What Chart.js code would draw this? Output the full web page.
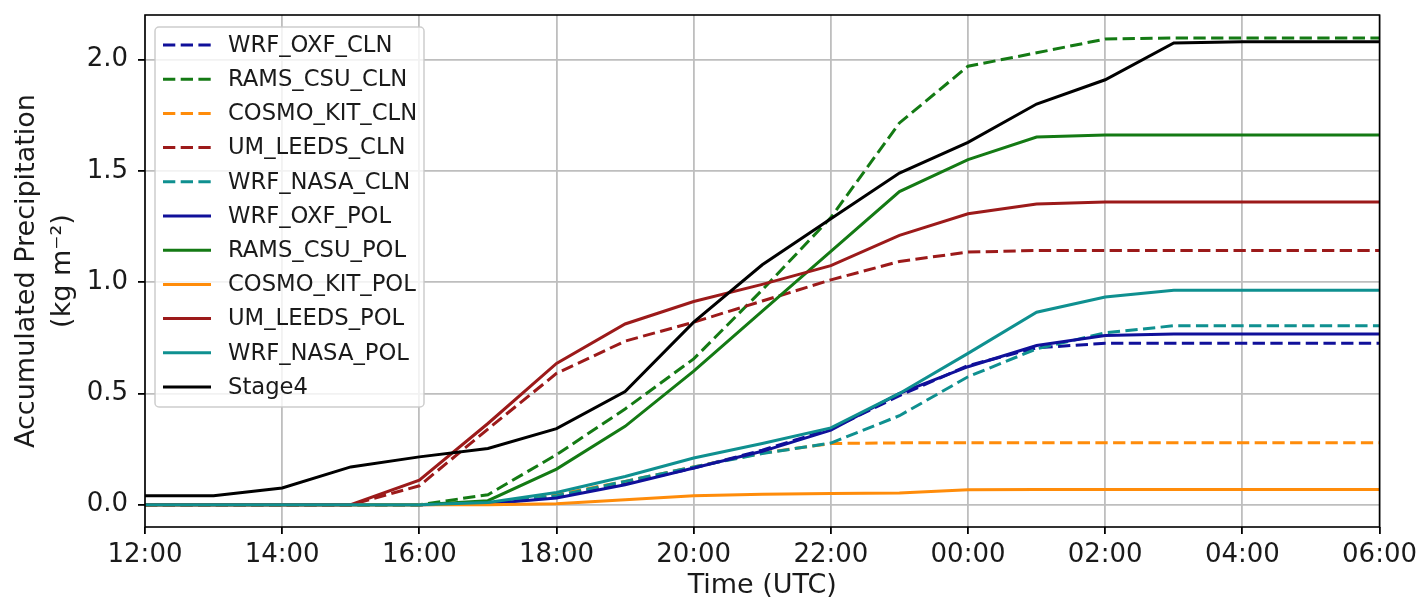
<!DOCTYPE html>
<html>
<head>
<meta charset="utf-8">
<script src="https://cdn.jsdelivr.net/npm/chart.js@4/dist/chart.umd.min.js"></script>
<style>
  html, body { margin: 0; padding: 0; background: #fff; }
</style>
</head>
<body>
<canvas id="precipChart" width="1423" height="604"></canvas>
<script>
// hourly times, 12:00 UTC to 06:00 UTC next day
const hours = ['12:00', '13:00', '14:00', '15:00', '16:00', '17:00', '18:00', '19:00', '20:00',
  '21:00', '22:00', '23:00', '00:00', '01:00', '02:00', '03:00', '04:00', '05:00', '06:00'];

// accumulated precipitation (kg m-2)
const wrfOxfCln = [0, 0, 0, 0, 0, 0.005, 0.04, 0.095, 0.165, 0.245, 0.34, 0.49, 0.625, 0.705, 0.725, 0.725, 0.725, 0.725, 0.725];
const ramsCsuCln = [0, 0, 0, 0, 0, 0.045, 0.225, 0.43, 0.655, 0.965, 1.29, 1.715, 1.97, 2.03, 2.092, 2.097, 2.097, 2.097, 2.097];
const cosmoKitCln = [0, 0, 0, 0, 0, 0.005, 0.045, 0.105, 0.17, 0.232, 0.275, 0.278, 0.278, 0.278, 0.278, 0.278, 0.278, 0.278, 0.278];
const umLeedsCln = [0, 0, 0, 0, 0.085, 0.34, 0.59, 0.735, 0.82, 0.915, 1.01, 1.093, 1.135, 1.142, 1.142, 1.142, 1.142, 1.142, 1.142];
const wrfNasaCln = [0, 0, 0, 0, 0, 0.005, 0.04, 0.105, 0.17, 0.23, 0.277, 0.4, 0.575, 0.7, 0.772, 0.804, 0.804, 0.804, 0.804];
const wrfOxfPol = [0, 0, 0, 0, 0, 0.005, 0.03, 0.09, 0.165, 0.24, 0.335, 0.5, 0.62, 0.715, 0.76, 0.767, 0.767, 0.767, 0.767];
const ramsCsuPol = [0, 0, 0, 0, 0, 0.018, 0.16, 0.352, 0.6, 0.87, 1.138, 1.407, 1.55, 1.652, 1.661, 1.661, 1.661, 1.661, 1.661];
const cosmoKitPol = [0, 0, 0, 0, 0, 0, 0.005, 0.022, 0.04, 0.047, 0.05, 0.053, 0.067, 0.068, 0.068, 0.068, 0.068, 0.068, 0.068];
const umLeedsPol = [0, 0, 0, 0, 0.11, 0.365, 0.635, 0.812, 0.913, 0.99, 1.074, 1.21, 1.307, 1.351, 1.36, 1.36, 1.36, 1.36, 1.36];
const wrfNasaPol = [0, 0, 0, 0, 0, 0.01, 0.055, 0.127, 0.21, 0.275, 0.345, 0.5, 0.68, 0.865, 0.933, 0.963, 0.963, 0.963, 0.963];
const stage4 = [0.04, 0.04, 0.075, 0.17, 0.215, 0.253, 0.342, 0.508, 0.82, 1.078, 1.285, 1.49, 1.628, 1.8, 1.909, 2.074, 2.08, 2.08, 2.08];

const yTicks = [0, 0.5, 1, 1.5, 2];

const FONT = 'DejaVu Sans';
const TEXT = '#1a1a1a';
const DASH = [12.3, 5.4];
const LW = 3;
const GRID = '#bebebe';

const BLUE = '#10109a';
const GREEN = '#147a14';
const ORANGE = '#ff8c0a';
const RED = '#9c1a1a';
const TEAL = '#0f9090';

function series(label, data, color, dashed, i) {
  return {
    label: label,
    data: data,
    borderColor: color,
    backgroundColor: color,
    borderWidth: LW,
    borderDash: dashed ? DASH : [],
    pointRadius: 0,
    tension: 0,
    order: 10 - i, // later series on top, like matplotlib
  };
}

// all four spines
const frame = {
  id: 'frame',
  afterDatasetsDraw(chart) {
    const { ctx, chartArea: a } = chart;
    ctx.save();
    ctx.strokeStyle = '#000';
    ctx.lineWidth = 1.6;
    ctx.strokeRect(a.left, a.top, a.right - a.left, a.bottom - a.top);
    ctx.restore();
  }
};

// matplotlib-style legend box in the upper left of the plot
const legendBox = {
  id: 'legendBox',
  afterDatasetsDraw(chart) {
    const { ctx, chartArea: a } = chart;
    const x0 = a.left + 10, y0 = a.top + 12, w = 269, h = 380, r = 4;
    ctx.save();
    ctx.beginPath();
    ctx.moveTo(x0 + r, y0);
    ctx.arcTo(x0 + w, y0, x0 + w, y0 + h, r);
    ctx.arcTo(x0 + w, y0 + h, x0, y0 + h, r);
    ctx.arcTo(x0, y0 + h, x0, y0, r);
    ctx.arcTo(x0, y0, x0 + w, y0, r);
    ctx.closePath();
    ctx.fillStyle = 'rgba(255,255,255,0.8)';
    ctx.fill();
    ctx.strokeStyle = 'rgba(200,200,200,0.9)';
    ctx.lineWidth = 1.5;
    ctx.stroke();

    ctx.font = '22.7px "' + FONT + '"';
    ctx.textBaseline = 'middle';
    ctx.textAlign = 'left';
    chart.data.datasets.forEach((ds, i) => {
      const y = y0 + 18 + i * 34.2;
      ctx.beginPath();
      ctx.setLineDash(ds.borderDash);
      ctx.strokeStyle = ds.borderColor;
      ctx.lineWidth = ds.borderWidth;
      ctx.moveTo(x0 + 8, y);
      ctx.lineTo(x0 + 56, y);
      ctx.stroke();
      ctx.setLineDash([]);
      ctx.fillStyle = TEXT;
      ctx.fillText(ds.label, x0 + 73, y + 1);
    });
    ctx.restore();
  }
};

const hidden = 'rgba(0,0,0,0)';

new Chart(document.getElementById('precipChart'), {
  type: 'line',
  data: {
    labels: hours,
    datasets: [
      series('WRF_OXF_CLN', wrfOxfCln, BLUE, true, 0),
      series('RAMS_CSU_CLN', ramsCsuCln, GREEN, true, 1),
      series('COSMO_KIT_CLN', cosmoKitCln, ORANGE, true, 2),
      series('UM_LEEDS_CLN', umLeedsCln, RED, true, 3),
      series('WRF_NASA_CLN', wrfNasaCln, TEAL, true, 4),
      series('WRF_OXF_POL', wrfOxfPol, BLUE, false, 5),
      series('RAMS_CSU_POL', ramsCsuPol, GREEN, false, 6),
      series('COSMO_KIT_POL', cosmoKitPol, ORANGE, false, 7),
      series('UM_LEEDS_POL', umLeedsPol, RED, false, 8),
      series('WRF_NASA_POL', wrfNasaPol, TEAL, false, 9),
      series('Stage4', stage4, '#000000', false, 10),
    ],
  },
  options: {
    responsive: false,
    devicePixelRatio: 1,
    animation: false,
    layout: { padding: { left: 0, right: 43, top: 15, bottom: 0 } },
    plugins: {
      legend: { display: false },
      tooltip: { enabled: false },
    },
    scales: {
      x: {
        type: 'category',
        offset: false,
        border: { display: false },
        grid: {
          color: (c) => (c.index % 2 ? hidden : GRID),
          tickColor: (c) => (c.index % 2 ? hidden : '#000'),
          lineWidth: 1.8,
          tickLength: 7,
        },
        ticks: {
          autoSkip: false,
          maxRotation: 0,
          padding: 6,
          color: TEXT,
          font: { family: FONT, size: 26, lineHeight: 1.2 },
          callback: function (v, i) { return i % 2 ? '' : this.getLabelForValue(v); },
        },
        title: {
          display: true,
          text: 'Time (UTC)',
          color: TEXT,
          font: { family: FONT, size: 27, lineHeight: 1.2 },
          padding: { top: 0, bottom: 2 },
        },
        afterFit: (s) => { s.height = 77; },
      },
      y: {
        type: 'linear',
        min: -0.1,
        max: 2.2,
        border: { display: false },
        afterBuildTicks: (s) => { s.ticks = yTicks.map((v) => ({ value: v })); },
        grid: {
          color: GRID,
          tickColor: '#000',
          lineWidth: 1.8,
          tickLength: 7,
        },
        ticks: {
          padding: 10,
          color: TEXT,
          font: { family: FONT, size: 26, lineHeight: 1.2 },
          callback: (v) => v.toFixed(1),
        },
        title: {
          display: true,
          text: ['Accumulated Precipitation', '(kg m\u207B\u00B2)'],
          color: TEXT,
          font: { family: FONT, size: 27, lineHeight: 1.33 },
          padding: { top: 9, bottom: 0 },
        },
        afterFit: (s) => {
          s.width = 145;
          s.paddingTop = 0;
          s.paddingBottom = 0;
        },
      },
    },
  },
  plugins: [frame, legendBox],
});
</script>
</body>
</html>
